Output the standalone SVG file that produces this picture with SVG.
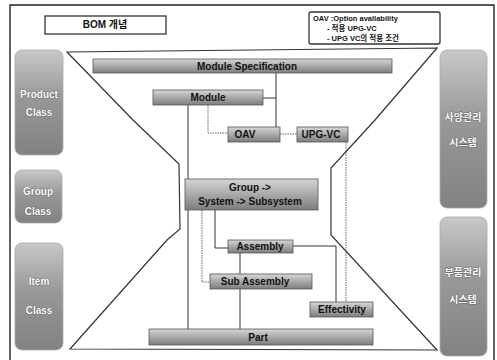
<svg xmlns="http://www.w3.org/2000/svg" width="497" height="360" viewBox="0 0 497 360">
  <defs>
    <linearGradient id="barGrad" x1="0" y1="0" x2="0" y2="1">
      <stop offset="0" stop-color="#d6d6d6"/>
      <stop offset="0.5" stop-color="#a9a9a9"/>
      <stop offset="1" stop-color="#7d7d7d"/>
    </linearGradient>
    <linearGradient id="sideGrad" x1="0" y1="0" x2="0" y2="1">
      <stop offset="0" stop-color="#c8c8c8"/>
      <stop offset="0.45" stop-color="#989898"/>
      <stop offset="1" stop-color="#828282"/>
    </linearGradient>
    <style>
      .frame { fill: none; stroke: #222; stroke-width: 1.4; }
      .hour { fill: none; stroke: #333; stroke-width: 1.2; }
      .note { fill: #fff; stroke: #333; stroke-width: 1.3; }
      .bar { fill: url(#barGrad); stroke: #555; stroke-width: 0.8; }
      .side { fill: url(#sideGrad); stroke: #aaa; stroke-width: 0.8; }
      .lbl { font-family: "Liberation Sans", "Noto Sans CJK KR", sans-serif; font-weight: bold; font-size: 10px; fill: #111; text-anchor: middle; }
      .side-lbl { font-family: "Liberation Sans", "Noto Sans CJK KR", sans-serif; font-weight: bold; font-size: 10px; fill: #fff; stroke: #444; stroke-width: 0.6; paint-order: stroke; text-anchor: middle; }
      .note-lbl { font-family: "Liberation Sans", "Noto Sans CJK KR", sans-serif; font-weight: bold; font-size: 7.5px; fill: #111; }
      .solid { fill: none; stroke: #333; stroke-width: 1; }
      .dot { fill: none; stroke: #666; stroke-width: 1; stroke-dasharray: 1.5 1; }
    </style>
  </defs>

  <!-- outer frame -->
  <path class="frame" d="M10,360 V5 H494 V360"/>

  <!-- hourglass outline -->
  <path class="hour" d="M67,52 L437,48 L375,120 L331,168 L331,235 L437,350 L70,349 L167,240 L180,229 L179,164 L133,120 Z"/>

  <!-- title box -->
  <g id="title">
    <rect class="note" x="45" y="16" width="121" height="18"/>
    <text class="lbl" x="105" y="28" font-size="8">BOM 개념</text>
  </g>

  <!-- OAV note -->
  <g id="oav-note">
    <rect class="note" x="309" y="12" width="131" height="32" rx="2"/>
    <text class="note-lbl" x="313" y="21">OAV :Option availability</text>
    <text class="note-lbl" x="327" y="31">- 적용 UPG-VC</text>
    <text class="note-lbl" x="327" y="41">- UPG VC의 적용 조건</text>
  </g>

  <!-- connectors -->
  <g id="connectors">
    <path class="solid" d="M276,73 V127"/>
    <path class="solid" d="M263,98 H276"/>
    <path class="dot" d="M208,105 V133 H228"/>
    <path class="dot" d="M280,134 H297"/>
    <path class="solid" d="M188,105 V329"/>
    <path class="dot" d="M202,210 V282 H210"/>
    <path class="solid" d="M215,210 V248 H228"/>
    <path class="solid" d="M240,253 V274"/>
    <path class="solid" d="M240,289 V329"/>
    <path class="solid" d="M293,246 H336 V302"/>
    <path class="dot" d="M346,142 V302"/>
  </g>

  <!-- central nodes -->
  <g id="module-spec">
    <rect class="bar" x="93" y="59" width="299" height="14"/>
    <text class="lbl" x="247" y="70">Module Specification</text>
  </g>
  <g id="module">
    <rect class="bar" x="153" y="90" width="110" height="15"/>
    <text class="lbl" x="208" y="101">Module</text>
  </g>
  <g id="oav">
    <rect class="bar" x="228" y="127" width="52" height="15"/>
    <text class="lbl" x="245" y="138">OAV</text>
  </g>
  <g id="upg-vc">
    <rect class="bar" x="297" y="127" width="51" height="15"/>
    <text class="lbl" x="321" y="138">UPG-VC</text>
  </g>
  <g id="group">
    <rect class="bar" x="185" y="179" width="133" height="31"/>
    <text class="lbl" x="250" y="191">Group -&gt;</text>
    <text class="lbl" x="250" y="205">System -&gt; Subsystem</text>
  </g>
  <g id="assembly">
    <rect class="bar" x="228" y="240" width="65" height="13"/>
    <text class="lbl" x="260" y="250">Assembly</text>
  </g>
  <g id="sub-assembly">
    <rect class="bar" x="210" y="274" width="102" height="15"/>
    <text class="lbl" x="255" y="285">Sub Assembly</text>
  </g>
  <g id="effectivity">
    <rect class="bar" x="310" y="302" width="63" height="15"/>
    <text class="lbl" x="342" y="313">Effectivity</text>
  </g>
  <g id="part">
    <rect class="bar" x="149" y="329" width="224" height="16"/>
    <text class="lbl" x="258" y="341">Part</text>
  </g>

  <!-- left class boxes -->
  <g id="product-class">
    <rect class="side" x="15" y="50" width="48" height="105" rx="7"/>
    <text class="side-lbl" x="39" y="98">Product</text>
    <text class="side-lbl" x="39" y="116">Class</text>
  </g>
  <g id="group-class">
    <rect class="side" x="15" y="170" width="47" height="53" rx="7"/>
    <text class="side-lbl" x="38" y="195">Group</text>
    <text class="side-lbl" x="38" y="215">Class</text>
  </g>
  <g id="item-class">
    <rect class="side" x="15" y="243" width="48" height="107" rx="7"/>
    <text class="side-lbl" x="39" y="285">Item</text>
    <text class="side-lbl" x="39" y="314">Class</text>
  </g>

  <!-- right system boxes -->
  <g id="spec-system">
    <rect class="side" x="440" y="50" width="47" height="158" rx="7"/>
    <text class="side-lbl" x="463" y="121">사양관리</text>
    <text class="side-lbl" x="463" y="146">시스템</text>
  </g>
  <g id="part-system">
    <rect class="side" x="440" y="217" width="47" height="139" rx="7"/>
    <text class="side-lbl" x="463" y="276">부품관리</text>
    <text class="side-lbl" x="463" y="303">시스템</text>
  </g>
</svg>
